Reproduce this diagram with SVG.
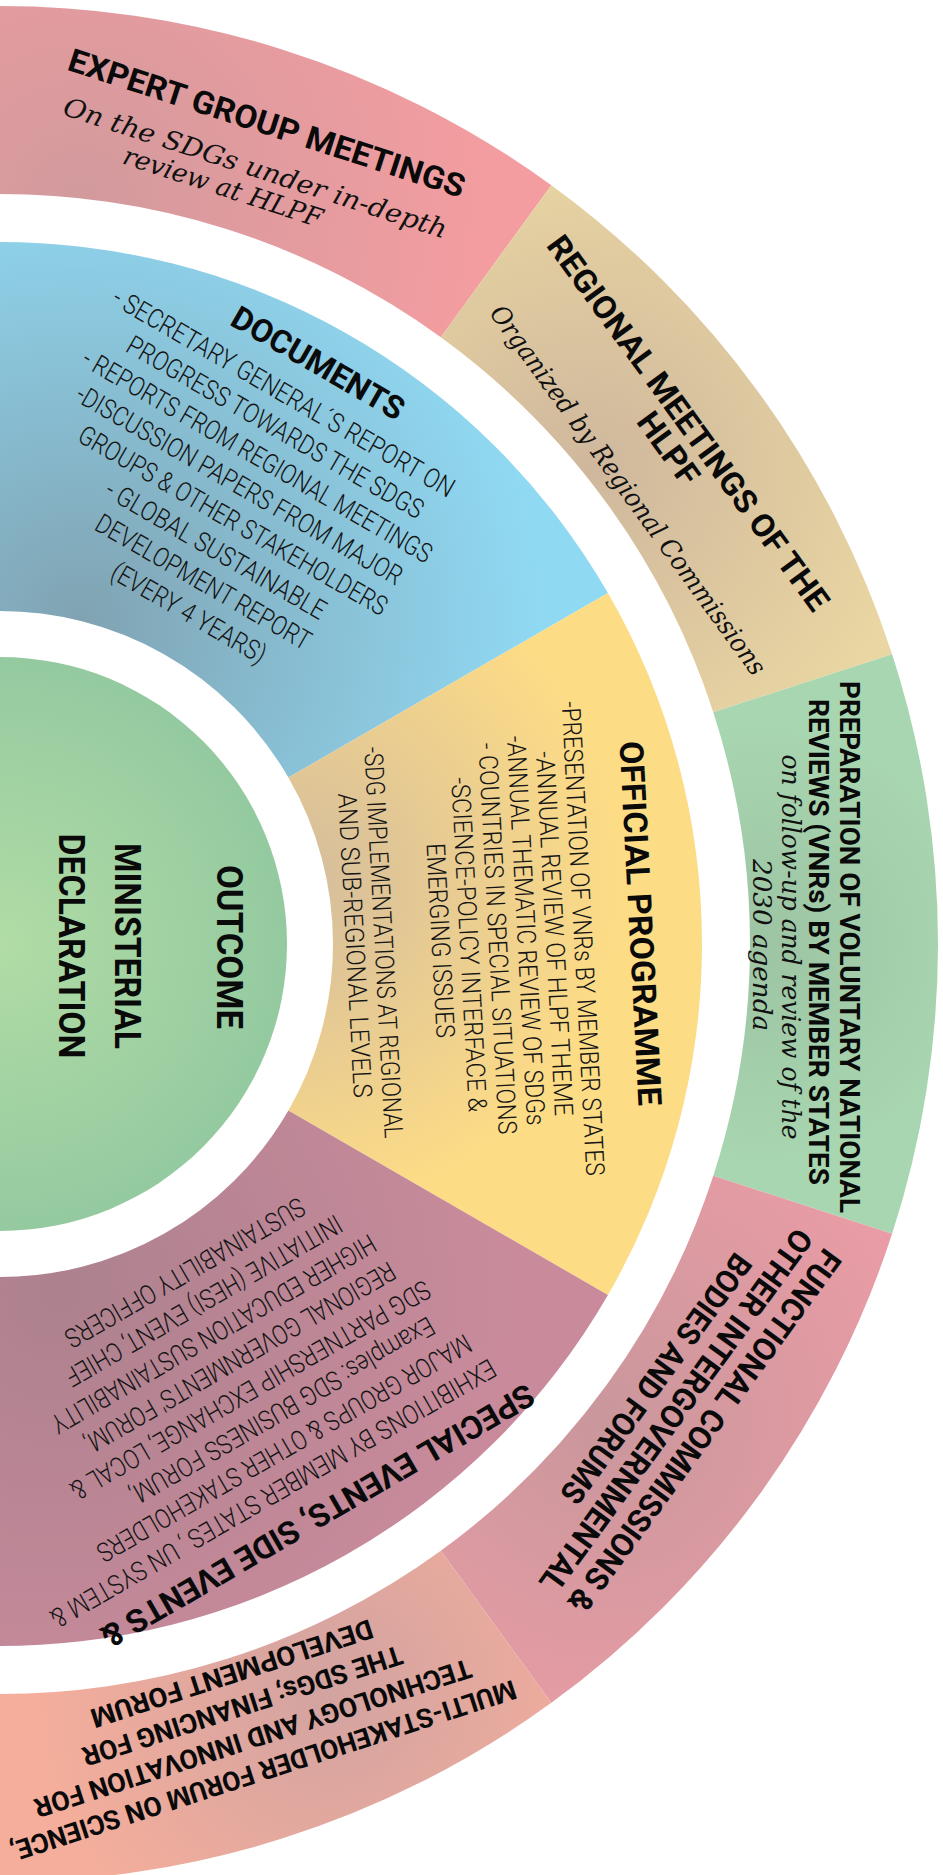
<svg xmlns="http://www.w3.org/2000/svg" width="943" height="1875" viewBox="0 0 943 1875">
<style>
.t{font-family:Roboto,"Liberation Sans",sans-serif;font-weight:700;fill:#0a0a0a;text-anchor:middle}
.b{font-family:Roboto,"Liberation Sans",sans-serif;font-weight:300;fill:#151515;text-anchor:middle;font-size:27px}
.o{font-size:26px}
.s{font-family:"DejaVu Serif","Liberation Serif",serif;font-style:italic;fill:#111;text-anchor:middle;font-size:26px}
</style>
<defs>
<radialGradient id="gExp" gradientUnits="userSpaceOnUse" cx="80" cy="200" r="420"><stop offset="0" stop-color="#d29a9d"/><stop offset="1" stop-color="#f49da0"/></radialGradient>
<radialGradient id="gReg" gradientUnits="userSpaceOnUse" cx="590" cy="470" r="330"><stop offset="0" stop-color="#cfb79d"/><stop offset="1" stop-color="#e9d6a2"/></radialGradient>
<radialGradient id="gVnr" gradientUnits="userSpaceOnUse" cx="760" cy="944" r="220"><stop offset="0" stop-color="#9dc4a3"/><stop offset="1" stop-color="#a8d6b0"/></radialGradient>
<radialGradient id="gFun" gradientUnits="userSpaceOnUse" cx="600" cy="1420" r="330"><stop offset="0" stop-color="#c9979c"/><stop offset="1" stop-color="#e99ca5"/></radialGradient>
<radialGradient id="gMul" gradientUnits="userSpaceOnUse" cx="330" cy="1690" r="300"><stop offset="0" stop-color="#d2a3a1"/><stop offset="1" stop-color="#f5ae9b"/></radialGradient>
<radialGradient id="gDoc" gradientUnits="userSpaceOnUse" cx="80" cy="620" r="460"><stop offset="0" stop-color="#80a3b2"/><stop offset="1" stop-color="#90d9f3"/></radialGradient>
<radialGradient id="gOff" gradientUnits="userSpaceOnUse" cx="290" cy="880" r="330"><stop offset="0" stop-color="#d3bc9d"/><stop offset="1" stop-color="#fddc86"/></radialGradient>
<radialGradient id="gSpe" gradientUnits="userSpaceOnUse" cx="60" cy="1290" r="450"><stop offset="0" stop-color="#ad818e"/><stop offset="1" stop-color="#c98b9c"/></radialGradient>
<radialGradient id="gOut" gradientUnits="userSpaceOnUse" cx="0" cy="944" r="300"><stop offset="0" stop-color="#b1dca5"/><stop offset="1" stop-color="#93c9a0"/></radialGradient>
</defs>
<rect width="943" height="1875" fill="#ffffff"/>

<g id="expert-group-meetings">
<path fill="url(#gExp)" d="M -16.37 6.14 A 938 938 0 0 1 551.34 185.14 L 440.84 337.24 A 750 750 0 0 0 -13.09 194.11 Z"/>
<g transform="translate(0 944) rotate(18)">
<text class="t" font-size="32" x="0" y="-852" textLength="415" lengthAdjust="spacingAndGlyphs">EXPERT GROUP MEETINGS</text>
<text class="s" font-size="27" x="3" y="-808" textLength="402" lengthAdjust="spacingAndGlyphs">On the SDGs under in-depth</text>
<text class="s" font-size="27" x="-22" y="-780" textLength="208" lengthAdjust="spacingAndGlyphs">review at HLPF</text>
</g>
</g>

<g id="regional-meetings">
<path fill="url(#gReg)" d="M 551.34 185.14 A 938 938 0 0 1 892.09 654.14 L 713.29 712.24 A 750 750 0 0 0 440.84 337.24 Z"/>
<g transform="translate(0 944) rotate(54)">
<text class="t" font-size="32" x="-17" y="-852" textLength="455" lengthAdjust="spacingAndGlyphs">REGIONAL MEETINGS OF THE</text>
<text class="t" font-size="32" x="-8" y="-821" textLength="82" lengthAdjust="spacingAndGlyphs">HLPF</text>
<text class="s" x="2" y="-766" textLength="450" lengthAdjust="spacingAndGlyphs">Organized by Regional Commissions</text>
</g>
</g>

<g id="voluntary-national-reviews">
<path fill="url(#gVnr)" d="M 892.09 654.14 A 938 938 0 0 1 892.09 1233.86 L 713.29 1175.76 A 750 750 0 0 0 713.29 712.24 Z"/>
<g transform="translate(0 944) rotate(90)">
<text class="t" font-size="28" x="3" y="-840" textLength="532" lengthAdjust="spacingAndGlyphs">PREPARATION OF VOLUNTARY NATIONAL</text>
<text class="t" font-size="28" x="-2" y="-809" textLength="486" lengthAdjust="spacingAndGlyphs">REVIEWS (VNRs) BY MEMBER STATES</text>
<text class="s" font-size="25" x="3" y="-782" textLength="385" lengthAdjust="spacingAndGlyphs">on follow-up and review of the</text>
<text class="s" font-size="25" x="1" y="-753" textLength="172" lengthAdjust="spacingAndGlyphs">2030 agenda</text>
</g>
</g>

<g id="functional-commissions">
<path fill="url(#gFun)" d="M 892.09 1233.86 A 938 938 0 0 1 551.34 1702.86 L 440.84 1550.76 A 750 750 0 0 0 713.29 1175.76 Z"/>
<g transform="translate(0 944) rotate(126)">
<text class="t" font-size="32" x="-20" y="-845" textLength="440" lengthAdjust="spacingAndGlyphs">FUNCTIONAL COMMISSIONS &amp;</text>
<text class="t" font-size="32" x="-20" y="-810" textLength="440" lengthAdjust="spacingAndGlyphs">OTHER INTERGOVERNMENTAL</text>
<text class="t" font-size="32" x="-34" y="-775" textLength="300" lengthAdjust="spacingAndGlyphs">BODIES AND FORUMS</text>
</g>
</g>

<g id="multi-stakeholder-forum">
<path fill="url(#gMul)" d="M 551.34 1702.86 A 938 938 0 0 1 -16.37 1881.86 L -13.09 1693.89 A 750 750 0 0 0 440.84 1550.76 Z"/>
<g transform="translate(0 944) rotate(162)">
<text class="t" font-size="27" x="5" y="-858" textLength="530" lengthAdjust="spacingAndGlyphs">MULTI-STAKEHOLDER FORUM ON SCIENCE,</text>
<text class="t" font-size="27" x="5" y="-824" textLength="458" lengthAdjust="spacingAndGlyphs">TECHNOLOGY AND INNOVATION FOR</text>
<text class="t" font-size="27" x="5" y="-790" textLength="335" lengthAdjust="spacingAndGlyphs">THE SDGs; FINANCING FOR</text>
<text class="t" font-size="27" x="5" y="-756" textLength="295" lengthAdjust="spacingAndGlyphs">DEVELOPMENT FORUM</text>
</g>
</g>

<g id="documents">
<path fill="url(#gDoc)" d="M -12.25 242.11 A 702 702 0 0 1 607.95 593 L 288.39 777.5 A 333 333 0 0 0 -5.81 611.05 Z"/>
<g transform="translate(0 944) rotate(30)">
<text class="t" font-size="32" x="-15" y="-651" textLength="194" lengthAdjust="spacingAndGlyphs">DOCUMENTS</text>
<text class="b" x="-30" y="-610" textLength="390" lengthAdjust="spacingAndGlyphs">- SECRETARY GENERAL´S REPORT ON</text>
<text class="b" x="-20" y="-576" textLength="338" lengthAdjust="spacingAndGlyphs">PROGRESS  TOWARDS THE SDGS</text>
<text class="b" x="-21" y="-542" textLength="399" lengthAdjust="spacingAndGlyphs">- REPORTS FROM REGIONAL MEETINGS</text>
<text class="b" x="-22" y="-508" textLength="372" lengthAdjust="spacingAndGlyphs">-DISCUSSION PAPERS FROM MAJOR</text>
<text class="b" x="-10" y="-474" textLength="352" lengthAdjust="spacingAndGlyphs">GROUPS &amp; OTHER STAKEHOLDERS</text>
<text class="b" x="-10" y="-440" textLength="250" lengthAdjust="spacingAndGlyphs">- GLOBAL SUSTAINABLE</text>
<text class="b" x="-5" y="-406" textLength="244" lengthAdjust="spacingAndGlyphs">DEVELOPMENT REPORT</text>
<text class="b" x="-2" y="-372" textLength="174" lengthAdjust="spacingAndGlyphs">(EVERY 4 YEARS)</text>
</g>
</g>

<g id="official-programme">
<path fill="url(#gOff)" d="M 607.95 593 A 702 702 0 0 1 607.95 1295 L 288.39 1110.5 A 333 333 0 0 0 288.39 777.5 Z"/>
<text class="t" font-size="33" transform="translate(629 924) rotate(87)" textLength="365" lengthAdjust="spacingAndGlyphs">OFFICIAL PROGRAMME</text>
<text class="b o" transform="translate(574 939) rotate(87)" textLength="475" lengthAdjust="spacingAndGlyphs">-PRESENTATION OF VNRs BY MEMBER STATES</text>
<text class="b o" transform="translate(545.5 934) rotate(87)" textLength="365" lengthAdjust="spacingAndGlyphs">-ANNUAL REVIEW OF HLPF THEME</text>
<text class="b o" transform="translate(517 931) rotate(87)" textLength="390" lengthAdjust="spacingAndGlyphs">-ANNUAL THEMATIC REVIEW OF SDGs</text>
<text class="b o" transform="translate(488.5 939) rotate(87)" textLength="392" lengthAdjust="spacingAndGlyphs">- COUNTRIES IN SPECIAL SITUATIONS</text>
<text class="b o" transform="translate(460 945) rotate(87)" textLength="335" lengthAdjust="spacingAndGlyphs">-SCIENCE-POLICY INTERFACE &amp;</text>
<text class="b o" transform="translate(431.5 941) rotate(87)" textLength="195" lengthAdjust="spacingAndGlyphs">EMERGING ISSUES</text>
<text class="b o" transform="translate(374.5 943) rotate(87)" textLength="392" lengthAdjust="spacingAndGlyphs">-SDG IMPLEMENTATIONS AT REGIONAL</text>
<text class="b o" transform="translate(346 946) rotate(87)" textLength="305" lengthAdjust="spacingAndGlyphs">AND SUB-REGIONAL LEVELS</text>
</g>

<g id="special-events">
<path fill="url(#gSpe)" d="M 607.95 1295 A 702 702 0 0 1 -12.25 1645.89 L -5.81 1276.95 A 333 333 0 0 0 288.39 1110.5 Z"/>
<g transform="translate(0 944) rotate(150)">
<text class="t" font-size="32" x="11" y="-643" textLength="495" lengthAdjust="spacingAndGlyphs">SPECIAL EVENTS, SIDE EVENTS &amp;</text>
<text class="b" x="38" y="-603" textLength="509" lengthAdjust="spacingAndGlyphs">EXHIBITIONS BY MEMBER STATES , UN SYSTEM  &amp;</text>
<text class="b" x="6" y="-569.4" textLength="427" lengthAdjust="spacingAndGlyphs">MAJOR GROUPS &amp; OTHER STAKEHOLDERS</text>
<text class="b" x="-11" y="-535.8" textLength="347" lengthAdjust="spacingAndGlyphs">Examples: SDG BUSINESS FORUM,</text>
<text class="b" x="6" y="-502.2" textLength="411" lengthAdjust="spacingAndGlyphs">SDG PARTNERSHIP EXCHANGE, LOCAL &amp;</text>
<text class="b" x="-1" y="-468.6" textLength="354" lengthAdjust="spacingAndGlyphs">REGIONAL GOVERNMENTS' FORUM,</text>
<text class="b" x="10" y="-435" textLength="370" lengthAdjust="spacingAndGlyphs">HIGHER EDUCATION SUSTAINABILITY</text>
<text class="b" x="2" y="-401.4" textLength="315" lengthAdjust="spacingAndGlyphs">INITIATIVE (HESI) EVENT, CHIEF</text>
<text class="b" x="4" y="-367.8" textLength="272" lengthAdjust="spacingAndGlyphs">SUSTAINABILITY OFFICERS</text>
</g>
</g>

<g id="outcome">
<circle cx="0" cy="944" r="287" fill="url(#gOut)"/>
<g transform="translate(0 944) rotate(90)">
<text class="t" font-size="36" x="3" y="-217" textLength="164" lengthAdjust="spacingAndGlyphs">OUTCOME</text>
<text class="t" font-size="36" x="2" y="-115" textLength="206" lengthAdjust="spacingAndGlyphs">MINISTERIAL</text>
<text class="t" font-size="36" x="2" y="-59" textLength="225" lengthAdjust="spacingAndGlyphs">DECLARATION</text>
</g>
</g>

<g id="connectors"/>
</svg>
